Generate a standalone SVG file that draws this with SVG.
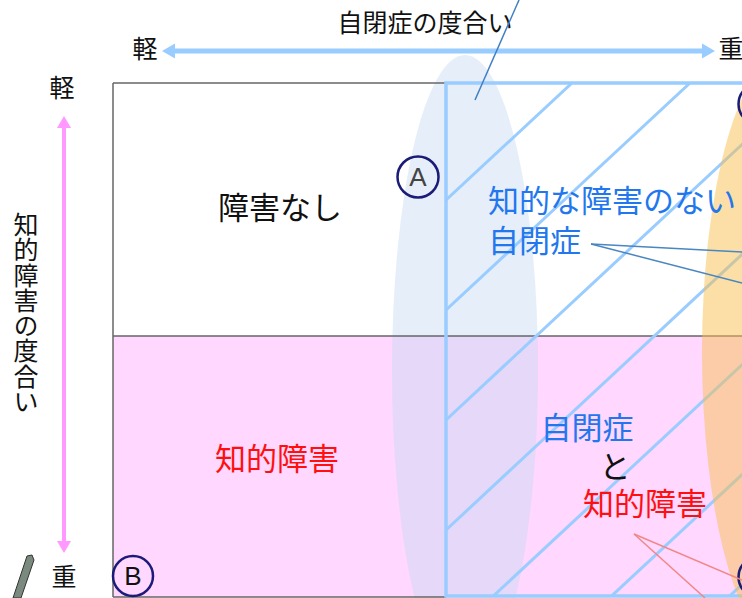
<svg xmlns="http://www.w3.org/2000/svg" width="742" height="598" viewBox="0 0 742 598">
<defs>
<style>
.jp{font-family:"Noto Sans CJK JP","Noto Sans CJK SC",sans-serif;}
.lbl{font-size:31px;text-anchor:middle;}
.ax{font-size:25px;text-anchor:middle;fill:#111;}
.blue{fill:#2277ee;}
.red{fill:#ff1010;}
.hatch{stroke:#99ccff;stroke-width:3;fill:none;}
.mark{fill:none;stroke:#1b1b78;stroke-width:2.5;}
.letter{font-family:"Liberation Sans",Arial,sans-serif;font-size:26px;text-anchor:middle;}
</style>
<clipPath id="hclip"><rect x="446" y="83" width="400" height="513"/></clipPath>
</defs>
<rect width="742" height="598" fill="#ffffff"/>

<g id="grid">
<rect x="113" y="83" width="700" height="253" fill="#ffffff"/>
<rect x="113" y="336" width="700" height="261" fill="#ffd7ff"/>
</g>

<g id="autism-ellipse">
<ellipse cx="465" cy="370" rx="73" ry="315" fill="#c6d9f1" fill-opacity="0.45"/>
</g>

<g id="grid-lines" stroke="#666666" stroke-width="1.5" fill="none">
<line x1="113" y1="83" x2="446" y2="83"/>
<line x1="113" y1="83" x2="113" y2="597"/>
<line x1="113" y1="597" x2="446" y2="597"/>
<line x1="113" y1="336" x2="742" y2="336"/>
</g>

<g id="hatched-area">
<g clip-path="url(#hclip)" class="hatch">
<line x1="446" y1="200" x2="572" y2="83"/>
<line x1="446" y1="310" x2="690" y2="83"/>
<line x1="446" y1="420" x2="808" y2="83"/>
<line x1="446" y1="530" x2="926" y2="83"/>
<line x1="446" y1="640" x2="1045" y2="83"/>
<line x1="446" y1="750" x2="1163" y2="83"/>
<line x1="446" y1="860" x2="1281" y2="83"/>
</g>
<path d="M 746 83 H 446 V 596 H 746" stroke="#99ccff" stroke-width="3.5" fill="none"/>
</g>

<g id="severe-ellipse">
<ellipse cx="788" cy="352" rx="86" ry="300" fill="#fac050" fill-opacity="0.5"/>
</g>

<g id="axis-autism">
<line x1="172" y1="51" x2="705" y2="51" stroke="#99ccff" stroke-width="5"/>
<polygon points="162,51 175,43.5 175,58.5" fill="#99ccff"/>
<polygon points="715,51 702,43.5 702,58.5" fill="#99ccff"/>
<text class="jp" x="425" y="32" font-size="25" text-anchor="middle" fill="#111">自閉症の度合い</text>
<text class="jp ax" x="145" y="58">軽</text>
<text class="jp ax" x="731" y="58">重</text>
</g>

<g id="axis-intellectual">
<line x1="64" y1="126" x2="64" y2="543" stroke="#ff99ff" stroke-width="4"/>
<polygon points="64,116 57,128 71,128" fill="#ff99ff"/>
<polygon points="64,553 57,541 71,541" fill="#ff99ff"/>
<text class="jp ax" x="62" y="97">軽</text>
<text class="jp ax" x="64" y="586">重</text>
<text class="jp" x="26" y="212" font-size="25" fill="#111" style="writing-mode:vertical-rl;letter-spacing:0.3px">知的障害の度合い</text>
</g>

<g id="node-none">
<text class="jp lbl" x="280" y="219" fill="#111">障害なし</text>
</g>

<g id="node-id">
<text class="jp lbl red" x="277" y="470">知的障害</text>
</g>

<g id="node-hfa">
<text class="jp blue" x="488" y="212" font-size="31">知的な障害のない</text>
<text class="jp blue" x="488" y="252" font-size="31">自閉症</text>
</g>

<g id="node-both">
<text class="jp lbl blue" x="587" y="439">自閉症</text>
<text class="jp lbl" x="615" y="478" fill="#111">と</text>
<text class="jp lbl red" x="645" y="515">知的障害</text>
</g>

<g id="marker-a">
<circle class="mark" cx="418" cy="177" r="20.5"/>
<text class="letter" x="418" y="186" fill="#444444">A</text>
</g>
<g id="marker-b">
<circle class="mark" cx="133" cy="576" r="20"/>
<text class="letter" x="133" y="585" fill="#111111">B</text>
</g>
<g id="marker-c">
<circle class="mark" cx="759" cy="104" r="20.5"/>
</g>
<g id="marker-d">
<circle class="mark" cx="759" cy="577" r="20.5"/>
</g>

<g id="connectors" fill="none" stroke-width="1.5">
<line x1="475" y1="100" x2="519" y2="0" stroke="#3f7fc4"/>
<line x1="591" y1="244" x2="742" y2="252" stroke="#4a86c0"/>
<line x1="591" y1="244" x2="742" y2="283" stroke="#4a86c0"/>
<line x1="634" y1="534" x2="742" y2="580" stroke="#f08888"/>
<line x1="634" y1="534" x2="705" y2="598" stroke="#f08888"/>
</g>

<g id="pen">
<polygon points="27,556 32,555 34,560 21,598 13,598" fill="#7a8a7e" stroke="#333333" stroke-width="1"/>
</g>
</svg>
